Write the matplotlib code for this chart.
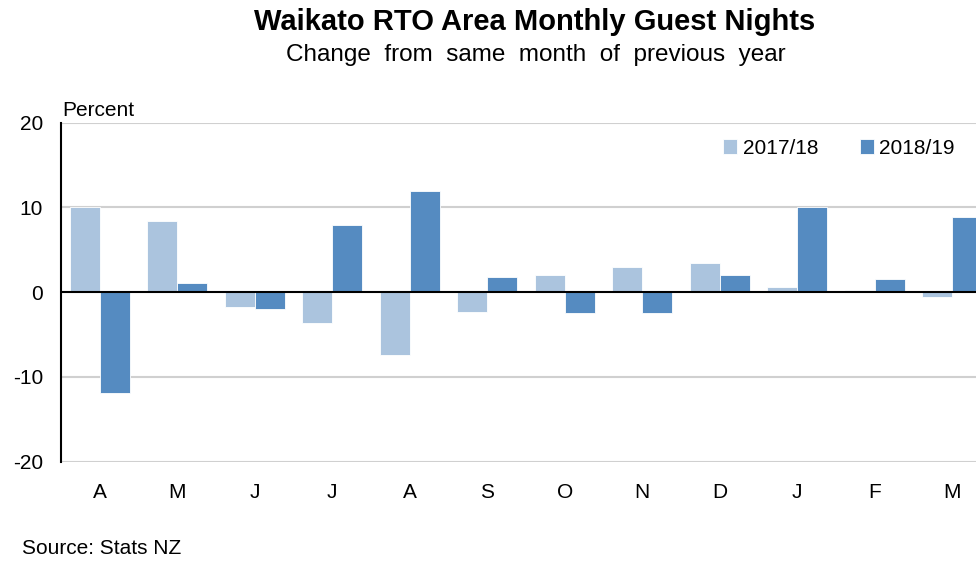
import matplotlib
matplotlib.use("Agg")
import matplotlib.pyplot as plt
import numpy as np

months = ["A", "M", "J", "J", "A", "S", "O", "N", "D", "J", "F", "M"]
series_names = ["2017/18", "2018/19"]
vals_1718 = [10.0, 8.4, -1.8, -3.6, -7.4, -2.3, 2.0, 3.0, 3.4, 0.6, 0.3, -0.6]
vals_1819 = [-11.9, 1.1, -2.0, 7.9, 12.0, 1.8, -2.5, -2.5, 2.0, 10.1, 1.5, 8.9]
yticks = [-20, -10, 0, 10, 20]

c_light = "#ABC4DE"
c_dark = "#558BC1"

plt.rcParams['font.family'] = ['Liberation Sans', 'DejaVu Sans']

W, H = 976, 563
fig = plt.figure(figsize=(W / 100, H / 100), dpi=100)
left_px, right_px, top_px, bot_px = 61, 976, 122.7, 461.7
ax = fig.add_axes([left_px / W, 1 - bot_px / H, (right_px - left_px) / W, (bot_px - top_px) / H])

x = np.arange(len(months))
bw = 0.39
ax.bar(x - bw / 2, vals_1718, width=bw, color=c_light, edgecolor="white", linewidth=0.6,
       label=series_names[0], zorder=3)
ax.bar(x + bw / 2, vals_1819, width=bw, color=c_dark, edgecolor="white", linewidth=0.6,
       label=series_names[1], zorder=3)

cat_px = 77.5
ax.set_xlim(-0.5, -0.5 + (right_px - left_px) / cat_px)
ax.set_ylim(-20, 20)
ax.set_yticks(yticks)
ax.set_yticklabels([str(v) for v in yticks], fontsize=15)
ax.set_xticks(x)
ax.set_xticklabels(months, fontsize=15)
ax.tick_params(axis='y', length=0, pad=13)
ax.tick_params(axis='x', length=0, pad=15)

for v in yticks:
    if v != 0:
        ax.axhline(v, color="#D0D0D0", linewidth=1.5, zorder=1)
ax.axhline(0, color="black", linewidth=1.5, zorder=4)

for s in ["top", "right", "bottom"]:
    ax.spines[s].set_visible(False)
ax.spines["left"].set_linewidth(1.5)
ax.spines["left"].set_color("black")
ax.spines["left"].set_zorder(5)

leg = ax.legend(loc="upper right", bbox_to_anchor=(955 / W, 1 - 139 / H),
                bbox_transform=fig.transFigure, ncol=2, frameon=False, fontsize=15,
                handlelength=0.7, handleheight=0.7, handletextpad=0.25, columnspacing=2.0,
                borderpad=0, borderaxespad=0)

fig.text(535 / W, 1 - 22 / H, "Waikato RTO Area Monthly Guest Nights", ha="center", va="center",
         fontsize=21, fontweight="bold")
fig.text(536 / W, 1 - 55 / H, "Change  from  same  month  of  previous  year", ha="center", va="center",
         fontsize=17.5)
fig.text(62 / W, 1 - 110 / H, "Percent", ha="left", va="center", fontsize=15)
fig.text(22 / W, 1 - 549 / H, "Source: Stats NZ", ha="left", va="center", fontsize=15)

fig.savefig("out.png", dpi=100, facecolor="white")
